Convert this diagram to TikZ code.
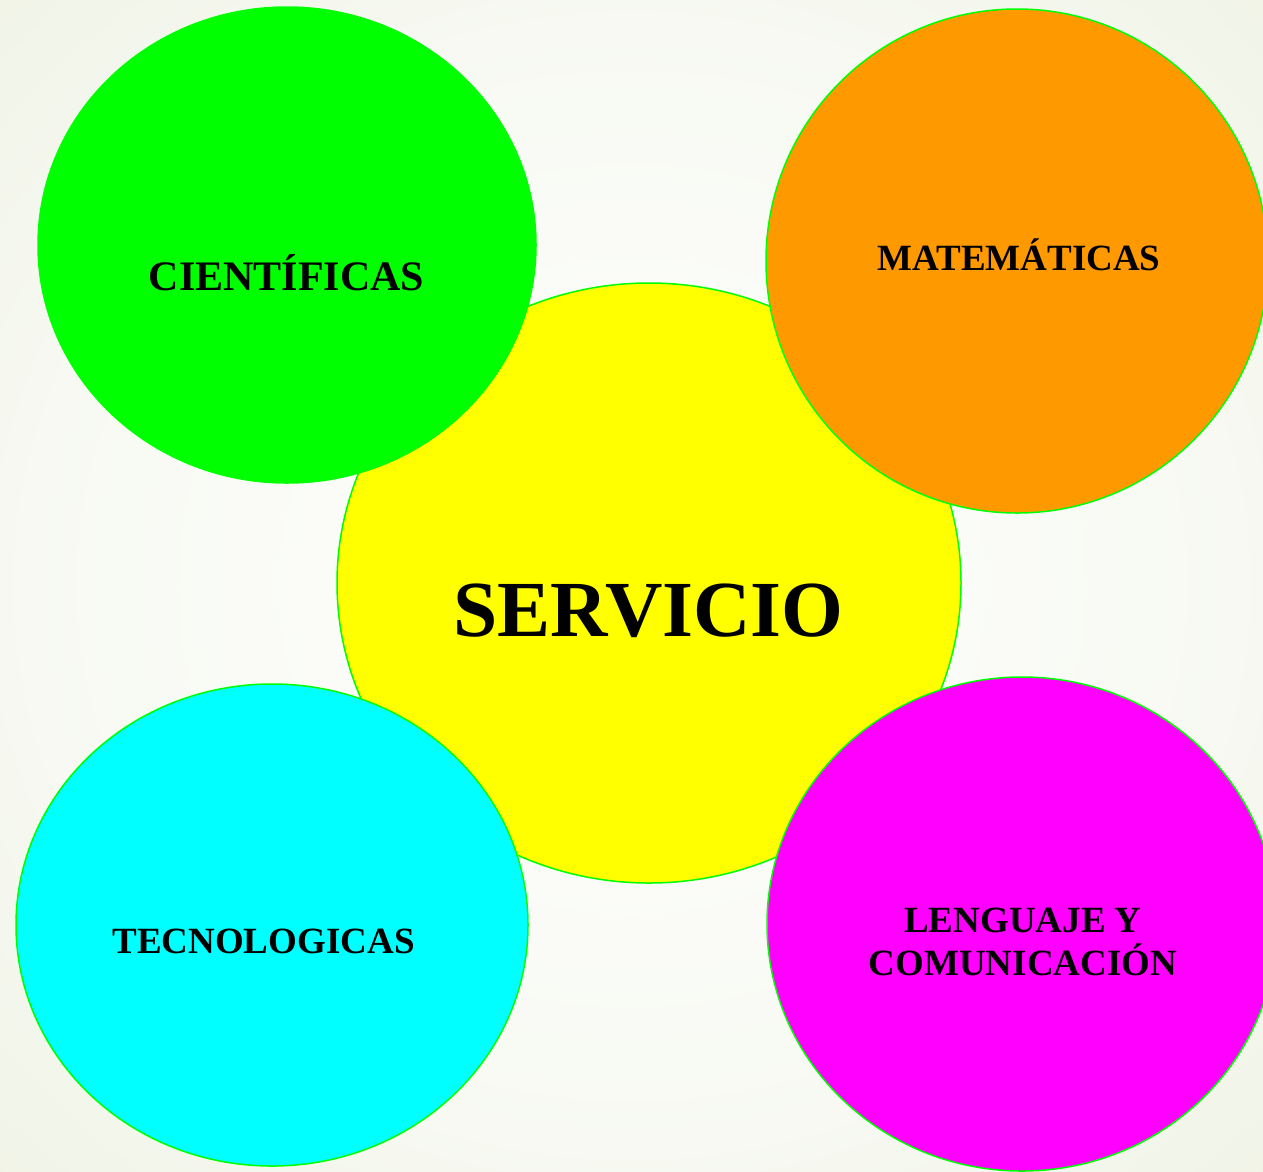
\documentclass[tikz,border=0pt]{standalone}
\usepackage{fontspec}
\setmainfont{Liberation Serif}
\definecolor{bgedge}{RGB}{232,237,216}
\definecolor{bgmid}{RGB}{247,249,242}
\definecolor{ringgreen}{RGB}{0,255,0}
\definecolor{fillgreen}{RGB}{0,255,0}
\definecolor{fillyellow}{RGB}{255,255,0}
\definecolor{fillorange}{RGB}{255,153,0}
\definecolor{fillcyan}{RGB}{0,255,255}
\definecolor{fillmagenta}{RGB}{255,0,255}
\pgfdeclareradialshading{bgglow}{\pgfpoint{0bp}{0bp}}{color(0bp)=(white); color(24bp)=(bgmid); color(50bp)=(bgedge)}
\tikzset{
    area/.style={draw=ringgreen, line width=1.5pt},
    label/.style={font=\bfseries\fontsize{37}{43}\selectfont, anchor=base, align=center, inner sep=0pt}
}
\begin{document}
\begin{tikzpicture}[x=1pt, y=-1pt]
            \useasboundingbox (0, 0) rectangle (1263, 1171);
            \shade[shading=bgglow] (0, 0) rectangle (1263, 1171);

            %%centre
            \draw[area, fill=fillyellow] (649, 583) ellipse (312 and 300);
                \node[label, font=\bfseries\fontsize{79.5}{90}\selectfont] (servicio) at (648.5, 636){SERVICIO};

            %%top left
            \draw[area, fill=fillgreen] (287, 245) ellipse (249 and 238);
                \node[label, font=\bfseries\fontsize{42}{48}\selectfont] (cientificas) at (286.5, 290){CIENTÍFICAS};

            %%top right
            \draw[area, fill=fillorange] (1017, 261) ellipse (251 and 252);
                \node[label] (matematicas) at (1019, 270){MATEMÁTICAS};

            %%bottom left
            \draw[area, fill=fillcyan] (272, 925) ellipse (256 and 241);
                \node[label] (tecnologicas) at (263.5, 953){TECNOLOGICAS};

            %%bottom right
            \draw[area, fill=fillmagenta] (1022, 924) ellipse (255 and 247);
                \node[label] (lenguaje) at (1023, 975){LENGUAJE Y\\COMUNICACIÓN};

        \end{tikzpicture}
\end{document}
